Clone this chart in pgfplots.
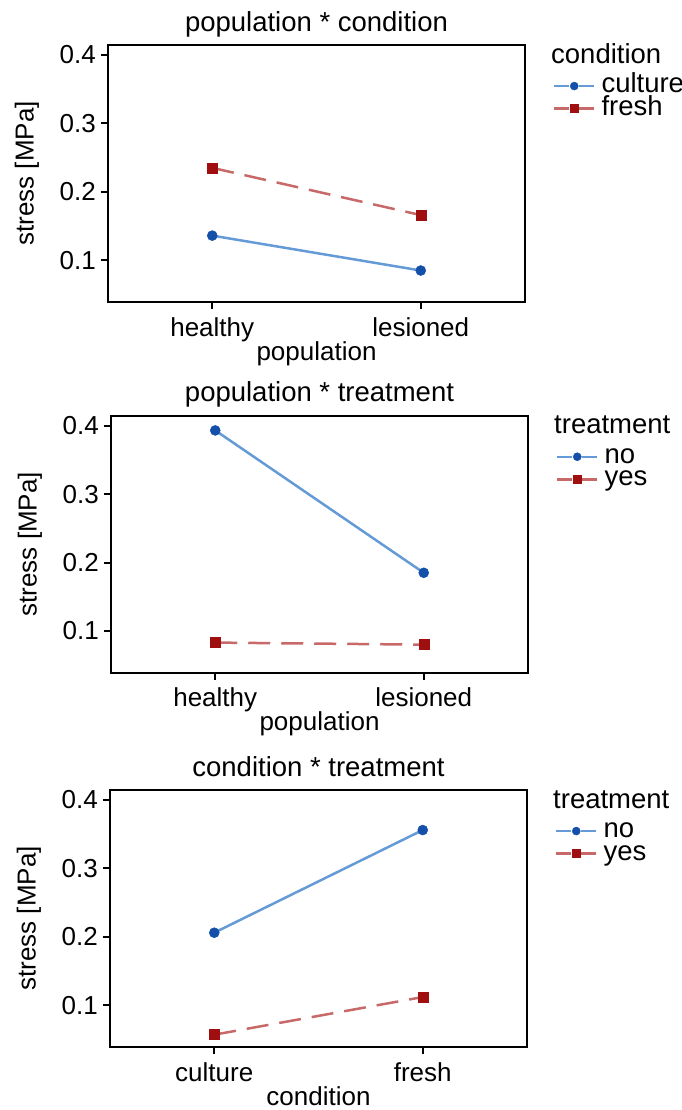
\documentclass[border=0pt]{standalone}
\usepackage{pgfplots}
\pgfplotsset{compat=1.18}
\usepackage{fontspec}
\setmainfont{Liberation Sans}
\definecolor{bmark}{RGB}{20,80,170}
\definecolor{bline}{RGB}{100,155,215}
\definecolor{rmark}{RGB}{160,15,15}
\definecolor{rline}{RGB}{200,105,105}
\newcommand\tickfont{\fontsize{26bp}{30bp}\selectfont}
\newcommand\titlefont{\fontsize{27.5bp}{32bp}\selectfont}
\pgfplotsset{
  panel/.style={
    scale only axis, width=417bp, height=257bp,
    xmin=0.5, xmax=2.5, ymin=0.039, ymax=0.4145,
    xtick={1,2}, ytick={0.1,0.2,0.3,0.4},
    tick align=outside, major tick length=7bp,
    xtick pos=left, ytick pos=left,
    clip=false,
    axis line style={line width=2bp},
    every tick/.style={black, line width=2bp},
    tick label style={font=\tickfont, inner sep=0pt},
    /pgf/number format/fixed, /pgf/number format/precision=1,
    /pgf/number format/assume math mode=true,
    yticklabel style={anchor=east, xshift=-5bp},
    xticklabel style={anchor=base, yshift=-27bp},
    every axis title shift=0pt,
    title style={font=\titlefont, at={(axis description cs:0.5,1)}, anchor=base, yshift=14bp, inner sep=0pt},
    xlabel style={font=\tickfont, at={(axis description cs:0.5,0)}, anchor=base, yshift=-58bp, inner sep=0pt},
    ylabel style={font=\tickfont, at={(axis description cs:0,0.5)}, anchor=center, yshift=81bp, inner sep=0pt},
    ylabel={stress [MPa]},
    legend cell align=left,
    legend style={draw=none, fill=none, at={(axis description cs:1,1)}, anchor=north west,
      xshift=28bp, yshift=-30.6bp, inner sep=0pt, outer sep=0pt, row sep=0pt, column sep=6bp,
      font=\titlefont, nodes={inner sep=0pt, text height=17bp, text depth=5.5bp}},
    legend image code/.code={
      \draw[##1] (0bp,0.8bp) -- (15bp,0.8bp);
      \draw[##1] (25bp,0.8bp) -- (40bp,0.8bp);
      \draw[##1, mark size=4bp] plot coordinates {(20bp,0.8bp)};
    },
  },
  bser/.style={bline, line width=2.5bp, mark=*, mark size=5bp, mark options={solid, fill=bmark, draw=bmark, line width=0.5bp}},
  rser/.style={rline, line width=2.5bp, dash pattern=on 22bp off 11bp, mark=square*, mark size=5bp, mark options={solid, fill=rmark, draw=rmark, line width=0.5bp}},
}
\begin{document}
\begin{tikzpicture}
\useasboundingbox (0,0) rectangle (682bp,-1110bp);
% Panel 1
\begin{axis}[panel, at={(108bp,-45bp)}, anchor=north west,
  title={population * condition}, xlabel={population},
  xticklabels={healthy,lesioned}]
\addplot[bser] coordinates {(1,0.136) (2,0.085)};
\addlegendentry{culture}
\addplot[rser] coordinates {(1,0.235) (2,0.166)};
\addlegendentry{fresh}
\node[font=\titlefont, anchor=base west, inner sep=0pt, xshift=26bp, yshift=-18bp] at (axis description cs:1,1) {condition};
\end{axis}
% Panel 2
\begin{axis}[panel, at={(111bp,-415.7bp)}, anchor=north west,
  title={population * treatment}, xlabel={population},
  xticklabels={healthy,lesioned}]
\addplot[bser] coordinates {(1,0.393) (2,0.185)};
\addlegendentry{no}
\addplot[rser] coordinates {(1,0.083) (2,0.080)};
\addlegendentry{yes}
\node[font=\titlefont, anchor=base west, inner sep=0pt, xshift=26bp, yshift=-18bp] at (axis description cs:1,1) {treatment};
\end{axis}
% Panel 3
\begin{axis}[panel, at={(110bp,-790bp)}, anchor=north west,
  title={condition * treatment}, xlabel={condition},
  xticklabels={culture,fresh}]
\addplot[bser] coordinates {(1,0.206) (2,0.356)};
\addlegendentry{no}
\addplot[rser] coordinates {(1,0.057) (2,0.112)};
\addlegendentry{yes}
\node[font=\titlefont, anchor=base west, inner sep=0pt, xshift=26bp, yshift=-18bp] at (axis description cs:1,1) {treatment};
\end{axis}
\end{tikzpicture}
\end{document}
